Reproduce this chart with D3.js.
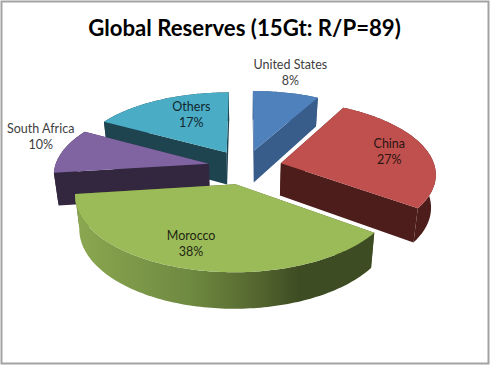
<!DOCTYPE html>
<html>
<head>
<meta charset="utf-8">
<script src="https://cdn.jsdelivr.net/npm/d3@7"></script>
<style>
  html, body { margin: 0; padding: 0; background: #fff; }
  svg { display: block; }
  text { font-family: Lato, "Noto Sans", sans-serif; }
</style>
</head>
<body>
<div id="chart"></div>
<script>
const titleText = 'Global Reserves (15Gt: R/P=89)';
const categories = ['United States', 'China', 'Morocco', 'South Africa', 'Others'];
const shares = [8, 27, 38, 10, 17];
const topColors = ['#4f81bd', '#c0504d', '#9bbb59', '#8064a2', '#4bacc6'];
const sideColors = ['#385d8a', '#4c1d1b', 'url(#moroccoRim)', '#33263f', '#1e4450'];
const labelColors = ['#404040', '#2b1413', '#1f2611', '#404040', '#10262c'];
// painted back to front
const drawOrder = [4, 0, 3, 1, 2];

const width = 490;
const height = 365;

// pie geometry, world units are roughly screen px
const cx = 245;
const cy = 167;
const radius = 154;
const explode = 37;
const thickness = 32.5;
const tilt = 0.465;
const perspective = 0.00085;
const bottomShrink = 0.975;

// where each label sits: fraction of radius along the mid angle, then a nudge
const labelFrac = [1.3, 0.74, 0.7, 1.27, 0.7];
const labelNudge = [[-4, -6], [1, -1], [-13, 2], [16, -11], [13, -1]];

const svg = d3.select('#chart').append('svg')
  .attr('width', width)
  .attr('height', height);

const defs = svg.append('defs');
const rim = defs.append('linearGradient')
  .attr('id', 'moroccoRim')
  .attr('gradientUnits', 'userSpaceOnUse')
  .attr('x1', 78).attr('x2', 300)
  .attr('y1', 0).attr('y2', 0);
rim.append('stop').attr('offset', '0%').attr('stop-color', '#8ba750');
rim.append('stop').attr('offset', '50%').attr('stop-color', '#6f8a41');
rim.append('stop').attr('offset', '80%').attr('stop-color', '#55672f');
rim.append('stop').attr('offset', '100%').attr('stop-color', '#3e4c23');

svg.append('rect')
  .attr('x', 1.5).attr('y', 1.5)
  .attr('width', 487).attr('height', 362)
  .attr('fill', '#fff')
  .attr('stroke', '#a3a3a3')
  .attr('stroke-width', 2);

svg.append('text')
  .attr('x', 244.5)
  .attr('y', 36)
  .attr('text-anchor', 'middle')
  .attr('font-size', 22.2)
  .attr('font-weight', 700)
  .attr('fill', '#000')
  .text(titleText);

const pie = d3.pie().sort(null).value(d => d);
const arcs = pie(shares);

// a = clockwise from north, r = distance from the slice's own apex
function project(arc, a, r, down) {
  const mid = (arc.startAngle + arc.endAngle) / 2;
  const x = explode * Math.sin(mid) + r * Math.sin(a);
  const v = explode * Math.cos(mid) + r * Math.cos(a);
  const w = 1 / (1 + perspective * v);
  const s = down ? bottomShrink : 1;
  return [
    cx + x * w * s,
    cy - tilt * v * w + (down ? thickness * (1 - 0.00065 * v) : 0),
  ];
}

const line = d3.line();

function arcPoints(arc, down) {
  const n = Math.ceil((arc.endAngle - arc.startAngle) / 0.02);
  return d3.range(n + 1).map((i) => {
    const a = arc.startAngle + ((arc.endAngle - arc.startAngle) * i) / n;
    return project(arc, a, radius, down);
  });
}

const slices = svg.append('g');

drawOrder.forEach((idx) => {
  const arc = arcs[idx];
  const g = slices.append('g').attr('class', 'slice');
  const side = sideColors[idx];
  const solid = idx === 2 ? '#4a5a2a' : side;
  const top = arcPoints(arc, false);
  const bottom = arcPoints(arc, true);
  const apexTop = project(arc, 0, 0, false);
  const apexBottom = project(arc, 0, 0, true);

  // radial walls
  [[top[0], bottom[0]], [top[top.length - 1], bottom[bottom.length - 1]]].forEach((edge) => {
    g.append('path')
      .attr('d', `${line([apexTop, edge[0], edge[1], apexBottom])}Z`)
      .attr('fill', solid);
  });

  // outer wall
  g.append('path')
    .attr('d', `${line(top.concat(bottom.slice().reverse()))}Z`)
    .attr('fill', side);

  // top face
  g.append('path')
    .attr('d', `${line([apexTop].concat(top))}Z`)
    .attr('fill', topColors[idx]);
});

const labels = svg.append('g')
  .attr('font-size', 12.5)
  .attr('text-anchor', 'middle');

arcs.forEach((arc, i) => {
  const mid = (arc.startAngle + arc.endAngle) / 2;
  const p = project(arc, mid, radius * labelFrac[i], false);
  const x = p[0] + labelNudge[i][0];
  const y = p[1] + labelNudge[i][1];
  const t = labels.append('text').attr('fill', labelColors[i]);
  t.append('tspan').attr('x', x).attr('y', y - 3).text(categories[i]);
  t.append('tspan').attr('x', x).attr('y', y + 13).text(`${shares[i]}%`);
});
</script>
</body>
</html>
